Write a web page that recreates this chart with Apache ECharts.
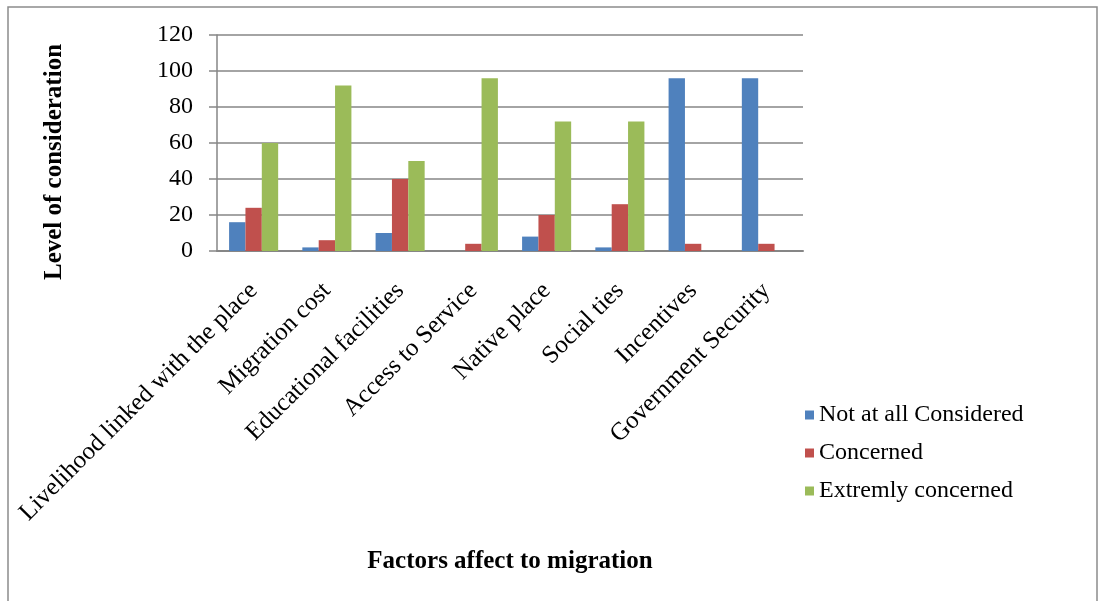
<!DOCTYPE html>
<html>
<head>
<meta charset="utf-8">
<script src="https://cdn.jsdelivr.net/npm/echarts@6/dist/echarts.min.js"></script>
<style>
  html, body { margin: 0; padding: 0; background: #fff; }
  #chart { width: 1099px; height: 601px; }
</style>
</head>
<body>
<div id="chart"></div>
<script>
// Factors affecting migration decisions, by level of consideration
const categories = [
  'Livelihood linked with the place',
  'Migration cost',
  'Educational facilities',
  'Access to Service',
  'Native place',
  'Social ties',
  'Incentives',
  'Government Security'
];
const seriesNames = ['Not at all Considered', 'Concerned', 'Extremly concerned'];
const notConsidered = [16, 2, 10, 0, 8, 2, 96, 96];
const concerned = [24, 6, 40, 4, 20, 26, 4, 4];
const extremelyConcerned = [60, 92, 50, 96, 72, 72, 0, 0];
const yTicks = { min: 0, max: 120, interval: 20 };

const colors = ['#4F81BD', '#C0504D', '#9BBB59'];
const font = '"Liberation Serif", "Times New Roman", serif';

const chart = echarts.init(document.getElementById('chart'));
chart.setOption({
  animation: false,
  color: colors,
  textStyle: { fontFamily: font, color: '#000' },
  graphic: [{
    type: 'rect',
    shape: { x: 8, y: 7, width: 1089, height: 600 },
    style: { fill: 'none', stroke: '#8c8c8c', lineWidth: 1.5 }
  }],
  grid: { left: 217, right: 296, top: 35, bottom: 350, containLabel: false },
  legend: {
    orient: 'vertical',
    left: 800,
    top: 398,
    itemWidth: 9,
    itemHeight: 9,
    itemGap: 14,
    icon: 'rect',
    textStyle: { fontFamily: font, fontSize: 24, color: '#000' },
    data: seriesNames
  },
  xAxis: {
    type: 'category',
    data: categories,
    name: 'Factors affect to migration',
    nameLocation: 'middle',
    nameGap: 298,
    nameTextStyle: { fontFamily: font, fontSize: 25, fontWeight: 'bold', color: '#000' },
    axisLine: { lineStyle: { color: '#868686', width: 2 } },
    axisTick: { show: false },
    axisLabel: { rotate: 45, fontSize: 25, margin: 36, color: '#000', fontFamily: font, interval: 0 }
  },
  yAxis: {
    type: 'value',
    min: yTicks.min,
    max: yTicks.max,
    interval: yTicks.interval,
    name: 'Level of consideration',
    nameLocation: 'middle',
    nameGap: 150,
    nameTextStyle: { fontFamily: font, fontSize: 25, fontWeight: 'bold', color: '#000', padding: [0, 38, 0, 0] },
    axisLine: { show: true, lineStyle: { color: '#868686', width: 1.5 } },
    axisTick: { show: true, inside: false, length: 8, lineStyle: { color: '#868686', width: 1.5 } },
    axisLabel: { fontSize: 24, margin: 24, color: '#000', fontFamily: font },
    splitLine: { lineStyle: { color: '#868686', width: 1.5 } }
  },
  series: [
    { name: seriesNames[0], type: 'bar', data: notConsidered, barGap: '0%', barCategoryGap: '33%' },
    { name: seriesNames[1], type: 'bar', data: concerned, barGap: '0%', barCategoryGap: '33%' },
    { name: seriesNames[2], type: 'bar', data: extremelyConcerned, barGap: '0%', barCategoryGap: '33%' }
  ]
});
</script>
</body>
</html>
